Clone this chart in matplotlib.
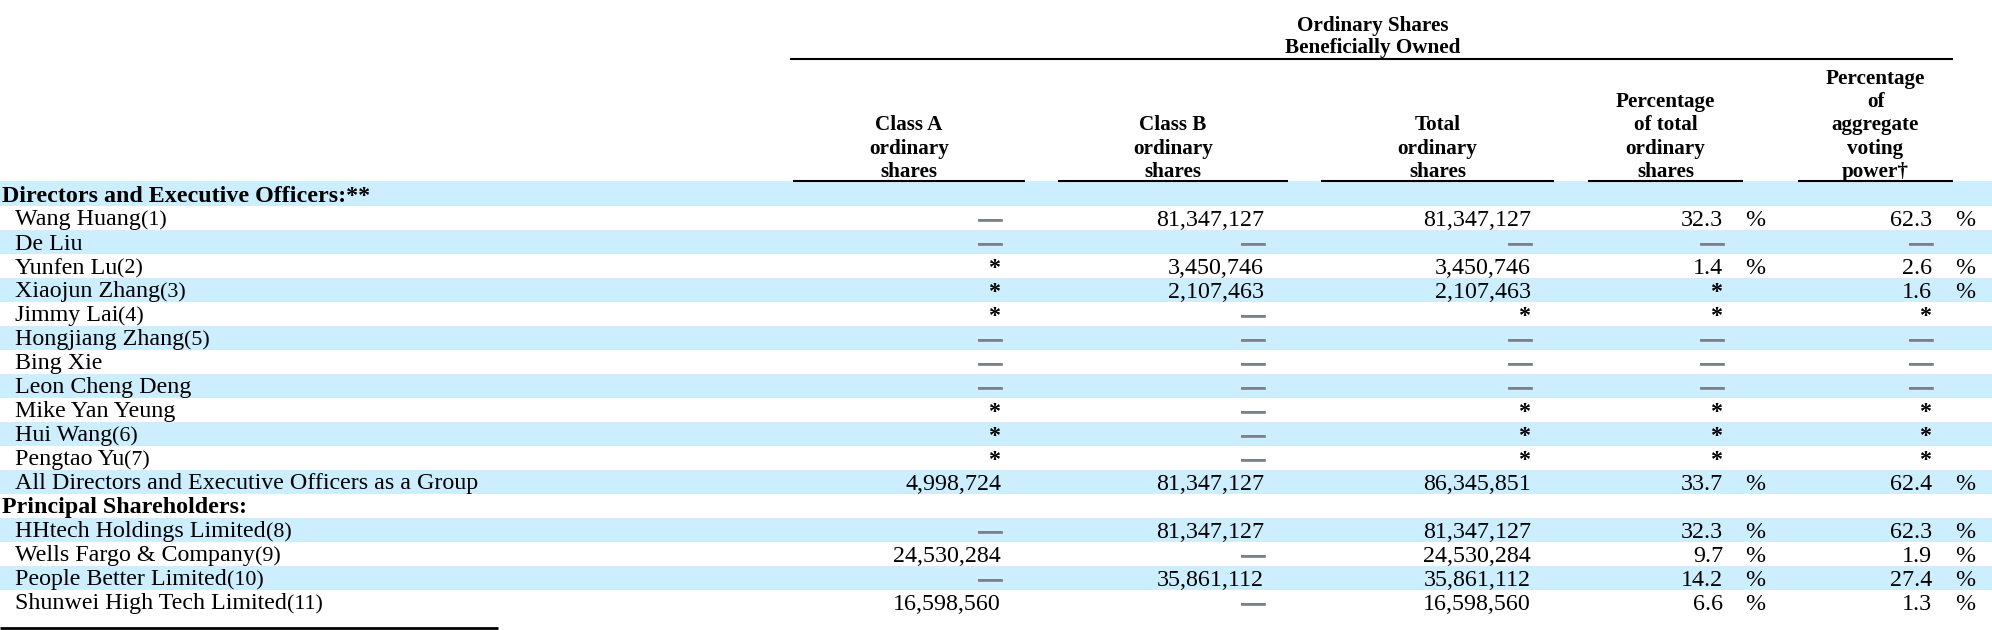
import matplotlib
matplotlib.use("Agg")
import matplotlib.pyplot as plt
import matplotlib.patheffects as pe

# ---- table content ----
sections = ["Directors and Executive Officers:**", "Principal Shareholders:"]
names = ["Wang Huang", "De Liu", "Yunfen Lu", "Xiaojun Zhang", "Jimmy Lai",
         "Hongjiang Zhang", "Bing Xie", "Leon Cheng Deng", "Mike Yan Yeung",
         "Hui Wang", "Pengtao Yu", "All Directors and Executive Officers as a Group",
         "HHtech Holdings Limited", "Wells Fargo & Company", "People Better Limited",
         "Shunwei High Tech Limited"]
notes = ["(1)", "", "(2)", "(3)", "(4)", "(5)", "", "", "", "(6)", "(7)", "",
         "(8)", "(9)", "(10)", "(11)"]
D, S = "—", "*"
class_a = [D, D, S, S, S, D, D, D, S, S, S, 4998724, D, 24530284, D, 16598560]
class_b = [81347127, D, 3450746, 2107463, D, D, D, D, D, D, D, 81347127,
           81347127, D, 35861112, D]
total = [81347127, D, 3450746, 2107463, S, D, D, D, S, S, S, 86345851,
         81347127, 24530284, 35861112, 16598560]
pct_total = [32.3, D, 1.4, S, S, D, D, D, S, S, S, 33.7, 32.3, 9.7, 14.2, 6.6]
pct_vote = [62.3, D, 2.6, 1.6, S, D, D, D, S, S, S, 62.4, 62.3, 1.9, 27.4, 1.3]

col_headers = [["Class A", "ordinary", "shares"],
               ["Class B", "ordinary", "shares"],
               ["Total", "ordinary", "shares"],
               ["Percentage", "of total", "ordinary", "shares"],
               ["Percentage", "of", "aggregate", "voting", "power†"]]
group_header = ["Ordinary Shares", "Beneficially Owned"]

# ---- layout (pixels) ----
W, H = 1992, 630
col_left = [793, 1058, 1321, 1588, 1798]
col_right = [1025, 1288, 1554, 1743, 1953]
num_right = [1001, 1264, 1531, 1723, 1932]
pct_left = [None, None, None, 1745, 1955]
row_top0, row_h = 182, 24
stripe = "#cceeff"
dash_color = "#7a8288"
FONT = "Liberation Serif"
fs_body, fs_head = 17.3, 15.2

fig = plt.figure(figsize=(W / 100, H / 100), dpi=100)
ax = fig.add_axes([0, 0, 1, 1])
ax.set_xlim(0, W)
ax.set_ylim(H, 0)
ax.axis("off")

# section headers interleaved with the data rows
rows = [("sec", 0)] + [("row", i) for i in range(12)] + [("sec", 1)] + \
       [("row", i) for i in range(12, 16)]

for r, _ in enumerate(rows):
    if r % 2 == 0:
        top = row_top0 + r * row_h
        ax.axhspan(top - (1 if r == 0 else 0), top + row_h, color=stripe, lw=0, zorder=0)

# group header
for k, line in enumerate(group_header):
    ax.text((col_left[0] + col_right[-1]) / 2, 31 + 22 * k, line, ha="center",
            va="baseline", fontsize=fs_head, fontweight="bold", family=FONT)
ax.plot([col_left[0] - 3, col_right[-1]], [59, 59], color="black", lw=1.5,
        solid_capstyle="butt")

# column headers
for c, lines in enumerate(col_headers):
    xc = (col_left[c] + col_right[c]) / 2
    n = len(lines)
    for k, line in enumerate(lines):
        y = 177 - (n - 1 - k) * 23.3
        ax.text(xc, y, line, ha="center", va="baseline", fontsize=fs_head,
                fontweight="bold", family=FONT)
    ax.plot([col_left[c], col_right[c]], [181, 181], color="black", lw=1.5,
            solid_capstyle="butt")


def fmt(v):
    if isinstance(v, str):
        return v
    if isinstance(v, float):
        return f"{v:.1f}"
    return f"{v:,}"


dash_fx = [pe.withStroke(linewidth=0.5, foreground=dash_color)]
series = [class_a, class_b, total, pct_total, pct_vote]
for r, (kind, i) in enumerate(rows):
    base = row_top0 + r * row_h + 19.5
    if kind == "sec":
        ax.text(2, base, sections[i], ha="left", va="baseline", fontsize=fs_body,
                fontweight="bold", family=FONT)
        continue
    t = ax.text(15, base, names[i], ha="left", va="baseline", fontsize=fs_body,
                family=FONT)
    if notes[i]:
        ax.annotate(notes[i], xy=(1, 0), xycoords=t, ha="left", va="bottom",
                    fontsize=fs_body - 1.5, family=FONT)
    for c, vals in enumerate(series):
        v = vals[i]
        if v == D:
            ax.text(num_right[c] + 1, base, v, ha="right", va="baseline",
                    fontsize=fs_body, family=FONT, color=dash_color,
                    path_effects=dash_fx)
        elif v == S:
            ax.text(num_right[c], base, v, ha="right", va="baseline",
                    fontsize=fs_body, family=FONT, fontweight="bold")
        else:
            ax.text(num_right[c], base, fmt(v), ha="right", va="baseline",
                    fontsize=fs_body, family=FONT)
        if pct_left[c] is not None and not isinstance(v, str):
            ax.text(pct_left[c], base, "%", ha="left", va="baseline",
                    fontsize=fs_body, family=FONT)

# footnote rule
ax.plot([0, 498], [628, 628], color="black", lw=2, solid_capstyle="butt")

fig.savefig("out.png", dpi=100)
